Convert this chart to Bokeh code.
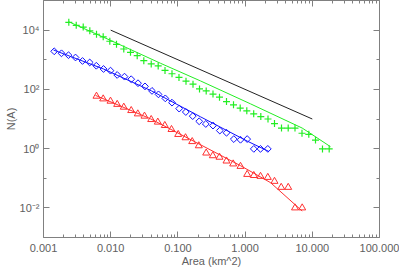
from bokeh.plotting import figure
from bokeh.models import FixedTicker, LogAxis, Range1d
from bokeh.embed import file_html
from bokeh.resources import INLINE
import math

# ---- data ----
green_area = [0.00238, 0.00307, 0.00390, 0.00489, 0.00615, 0.00773, 0.00970, 0.0122, 0.01566, 0.0197,
              0.0248, 0.0311, 0.0401, 0.0509, 0.0643, 0.0817, 0.1038, 0.1320, 0.1678, 0.2097,
              0.2637, 0.3329, 0.4159, 0.5287, 0.6721, 0.8456, 1.060, 1.343, 1.713, 2.192,
              2.738, 3.481, 4.379, 5.528, 7.025, 8.870, 11.16, 14.18, 17.84]
green_n = [18390, 14570, 12680, 9443, 7255, 5933, 4219, 3317, 2304, 1784,
           1371, 930.3, 720.3, 617.0, 435.3, 337.2, 253.1, 188.5, 149.4, 103.8,
           88.9, 69.4, 54.6, 38.8, 30.0, 23.3, 18.9, 14.9, 12.1, 10.0,
           7.0, 4.94, 4.94, 4.94, 3.30, 3.05, 1.95, 0.98, 0.98]

blue_area = [0.001443, 0.001853, 0.002355, 0.002994, 0.003806, 0.004870, 0.006106, 0.007813, 0.009931, 0.01249,
             0.01605, 0.02019, 0.02549, 0.03238, 0.04117, 0.05143, 0.06494, 0.08170, 0.1045, 0.1311,
             0.1661, 0.2075, 0.2601, 0.3329, 0.4202, 0.5287, 0.6789, 0.8540, 1.074, 1.347,
             1.695, 2.177]
blue_n = [1928, 1651, 1425, 1192, 909, 809, 627, 489, 429, 307,
          269, 220, 161.5, 126, 88.9, 67.8, 49.7, 35.6, 22.4, 17.2,
          12.5, 8.36, 6.78, 5.99, 4.07, 3.43, 2.10, 1.99, 2.10, 0.98,
          0.98, 0.98]

red_area = [0.006146, 0.007733, 0.009931, 0.01249, 0.01566, 0.02019, 0.02531, 0.03184, 0.04005, 0.05022,
            0.06385, 0.08028, 0.1010, 0.1298, 0.1633, 0.2046, 0.2637, 0.3306, 0.4159, 0.5287,
            0.6652, 0.8540, 1.074, 1.347, 1.695, 2.177, 2.738, 3.444, 4.379, 5.528, 7.073]
red_n = [58.9, 47.8, 40.0, 31.2, 25.1, 19.3, 14.9, 12.5, 9.61, 7.86,
         6.04, 4.43, 3.01, 2.33, 1.73, 1.25, 0.711, 0.577, 0.513, 0.382,
         0.305, 0.252, 0.135, 0.124, 0.116, 0.107, 0.0787, 0.0494, 0.0494, 0.0100, 0.0100]

green_fit_area = [0.00238, 0.00970, 0.0551, 0.2170, 1.203, 7.073, 11.16, 18.66]
green_fit_n = [19110, 4628, 760.6, 192.9, 32.5, 4.94, 2.51, 1.16]

blue_fit_area = [0.001409, 0.007813, 0.04046, 0.2170, 1.086, 2.252]
blue_fit_n = [2132, 489, 88.9, 11.85, 1.774, 0.805]

red_fit_area = [0.005939, 0.03911, 0.2170, 0.8540, 2.388, 7.073]
red_fit_n = [62.7, 10.15, 1.353, 0.266, 0.0712, 0.00782]

ref_area = [0.01, 10.0]
ref_n = [1.0e4, 10.0]

x_major = [0.001, 0.01, 0.1, 1.0, 10.0, 100.0]
x_labels = ["0.001", "0.010", "0.100", "1.000", "10.000", "100.000"]
y_major = [1e-2, 1.0, 1e2, 1e4]
y_labels = ["10\u207b\u00b2", "10\u2070", "10\u00b2", "10\u2074"]
y_minor = [1e-3, 1e-1, 10.0, 1e3, 1e5]
x_minor = [m * 10.0 ** e for e in range(-3, 2) for m in range(2, 10)]

FONT = "Liberation Sans"
TXT = "#606060"
AX = "#808080"

p = figure(width=399, height=269, x_axis_type="log", y_axis_type="log",
           x_range=Range1d(0.001, 100), y_range=Range1d(1e-3, 1e5),
           output_backend="svg", toolbar_location=None,
           min_border_left=43, min_border_right=20, min_border_top=0, min_border_bottom=31)
p.grid.visible = False
p.outline_line_color = None
p.background_fill_color = "white"


def style(ax, ticks, minor, labels, show):
    ax.ticker = FixedTicker(ticks=ticks, minor_ticks=minor)
    ax.axis_line_color = AX
    ax.major_tick_line_color = AX
    ax.minor_tick_line_color = AX
    ax.major_tick_in = 6
    ax.major_tick_out = 0
    ax.minor_tick_in = 3
    ax.minor_tick_out = 0
    if show:
        ax.major_label_overrides = {t: l for t, l in zip(ticks, labels)}
        ax.major_label_text_font = FONT
        ax.major_label_text_font_size = "11px"
        ax.major_label_text_color = TXT
        ax.axis_label_text_font = FONT
        ax.axis_label_text_font_size = "11px"
        ax.axis_label_text_color = TXT
        ax.axis_label_text_font_style = "normal"
    else:
        ax.major_label_overrides = {t: "" for t in ticks}
        ax.major_label_standoff = 0


xa = p.xaxis[0]
style(xa, x_major, x_minor, x_labels, True)
xa.axis_label = "Area (km^2)"
xa.major_label_standoff = 6
xa.axis_label_standoff = 0

ya = p.yaxis[0]
style(ya, y_major, y_minor, y_labels, True)
ya.axis_label = "N(A)"
ya.major_label_standoff = 4
ya.axis_label_standoff = 0

top = LogAxis()
style(top, x_major, x_minor, x_labels, False)
p.add_layout(top, "above")
right = LogAxis()
style(right, y_major, y_minor, y_labels, False)
p.add_layout(right, "right")

GREEN = "#22ee22"
BLUE = "#1010ff"
RED = "#ff3030"

p.line(ref_area, ref_n, line_color="#222222", line_width=1)
p.line(green_fit_area, green_fit_n, line_color=GREEN, line_width=1)
p.scatter(green_area, green_n, marker="cross", size=7, line_color=GREEN, line_width=1.2)
p.line(blue_fit_area, blue_fit_n, line_color=BLUE, line_width=1)
p.scatter(blue_area, blue_n, marker="square", angle=math.pi / 4, size=4.8,
          line_color=BLUE, fill_color=None, line_width=1)
p.line(red_fit_area, red_fit_n, line_color=RED, line_width=1)
p.scatter(red_area, red_n, marker="triangle", size=7, line_color=RED, fill_color=None, line_width=1)

open("out.html", "w").write(file_html(p, INLINE))
